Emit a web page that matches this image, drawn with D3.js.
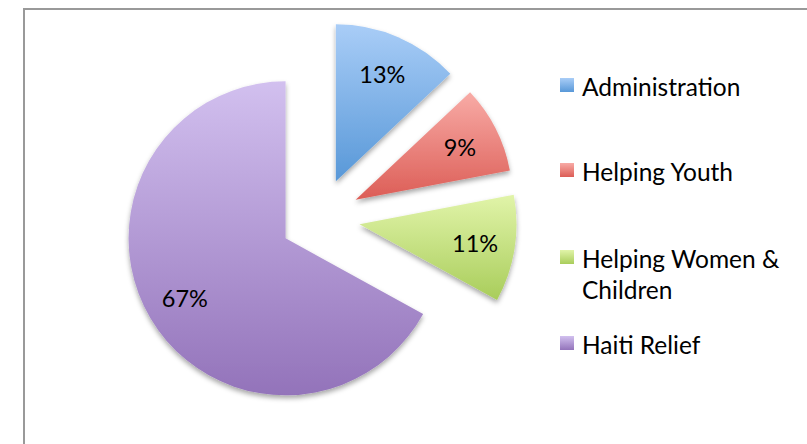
<!DOCTYPE html>
<html>
<head>
<meta charset="utf-8">
<script src="https://cdn.jsdelivr.net/npm/d3@7"></script>
<style>
  body { margin: 0; background: #fff; }
  svg { display: block; font-family: Lato, "Open Sans", sans-serif; }
</style>
</head>
<body>
<svg id="chart" width="807" height="444"></svg>
<script>
const categories = ["Administration", "Helping Youth", "Helping Women & Children", "Haiti Relief"];
const legendLines = [["Administration"], ["Helping Youth"], ["Helping Women &", "Children"], ["Haiti Relief"]];
const values = [13, 9, 11, 67];
const topColors = ["#a9cdf7", "#f8aba6", "#e1f4a9", "#d2c0ef"];
const bottomColors = ["#5898d8", "#dc5d56", "#a9cd5b", "#9373ba"];

const svg = d3.select("#chart");
const center = { x: 320, y: 218 };
const radius = 157;
const explode = 40;
const labelRadius = 117;

// frame
svg.append("rect")
  .attr("x", 24).attr("y", 9)
  .attr("width", 820).attr("height", 460)
  .attr("fill", "#fff")
  .attr("stroke", "#999")
  .attr("stroke-width", 2);

const defs = svg.append("defs");
categories.forEach((c, i) => {
  const g = defs.append("linearGradient")
    .attr("id", `grad${i}`)
    .attr("x1", 0).attr("y1", 0).attr("x2", 0).attr("y2", 1);
  g.append("stop").attr("offset", "0%").attr("stop-color", topColors[i]);
  g.append("stop").attr("offset", "100%").attr("stop-color", bottomColors[i]);
});

defs.append("filter")
  .attr("id", "shadow")
  .attr("x", "-20%").attr("y", "-20%").attr("width", "140%").attr("height", "140%")
  .append("feDropShadow")
  .attr("dx", 0).attr("dy", 3)
  .attr("stdDeviation", 2.5)
  .attr("flood-color", "#000")
  .attr("flood-opacity", 0.35);

const pie = d3.pie().sort(null).value(d => d);
const arc = d3.arc().innerRadius(0).outerRadius(radius);
const arcs = pie(values);

const slices = svg.append("g")
  .attr("transform", `translate(${center.x}, ${center.y})`);

const slice = slices.selectAll("g.slice")
  .data(arcs)
  .join("g")
  .attr("class", "slice")
  .attr("transform", d => {
    const mid = (d.startAngle + d.endAngle) / 2;
    return `translate(${explode * Math.sin(mid)}, ${-explode * Math.cos(mid)})`;
  });

slice.append("path")
  .attr("d", arc)
  .attr("fill", (d, i) => `url(#grad${i})`)
  .attr("filter", "url(#shadow)");

slice.append("text")
  .attr("x", d => labelRadius * Math.sin((d.startAngle + d.endAngle) / 2))
  .attr("y", d => -labelRadius * Math.cos((d.startAngle + d.endAngle) / 2))
  .attr("text-anchor", "middle")
  .attr("dominant-baseline", "central")
  .attr("font-size", 23.5)
  .attr("fill", "#000")
  .text(d => `${d.data}%`);

// legend
const legendY = [86, 171, 258, 344];
const legend = svg.append("g");
legendLines.forEach((lines, i) => {
  legend.append("rect")
    .attr("x", 560).attr("y", legendY[i] - 8)
    .attr("width", 14).attr("height", 14)
    .attr("fill", `url(#grad${i})`);
  const t = legend.append("text")
    .attr("x", 582).attr("y", legendY[i])
    .attr("dominant-baseline", "central")
    .attr("font-size", 24.5)
    .attr("fill", "#000");
  lines.forEach((line, j) => {
    t.append("tspan")
      .attr("x", 582)
      .attr("dy", j === 0 ? 0 : 31)
      .text(line);
  });
});
</script>
</body>
</html>
